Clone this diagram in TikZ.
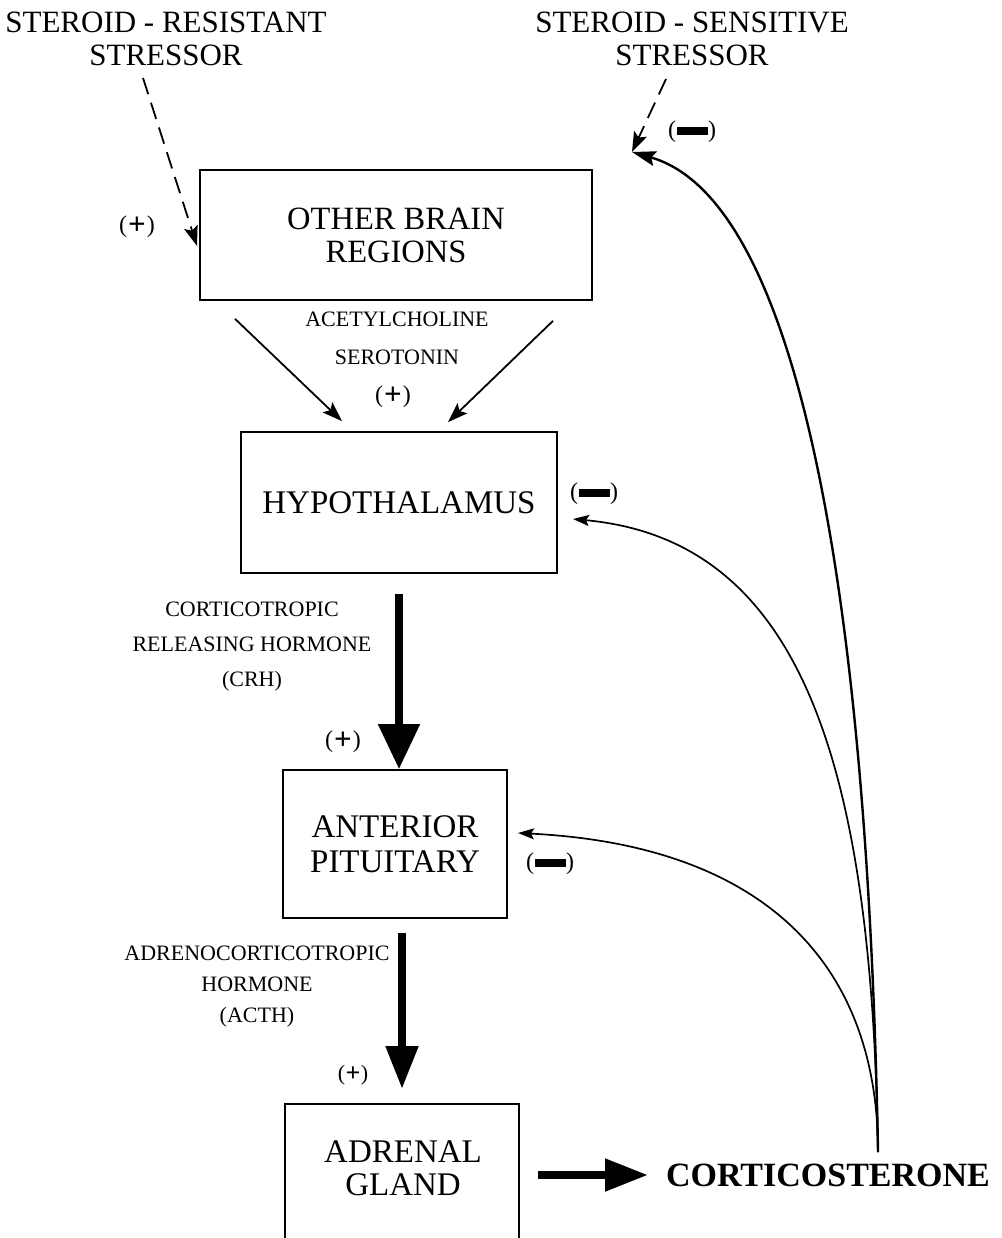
\documentclass[tikz,border=0pt]{standalone}
\usepackage{fontspec}
\setmainfont{Liberation Serif}
\usetikzlibrary{arrows.meta}
\newcommand{\negsign}{(\kern0.5pt\rule[2.5pt]{31pt}{8pt}\kern0.5pt)}
\newcommand{\possign}{(\kern1pt{\fontsize{31}{31}\selectfont\bfseries\raisebox{-1.8pt}{+}}\kern1pt)}
\newcommand{\possignsm}{(\kern0.5pt{\fontsize{26}{26}\selectfont\bfseries\raisebox{-1.5pt}{+}}\kern0.5pt)}
\begin{document}
\begin{tikzpicture}[x=1pt,y=-1pt,
  box/.style={draw,line width=1.7pt,inner sep=0pt,align=center},
  toplbl/.style={align=center,inner sep=0pt,font=\fontsize{31}{33}\selectfont},
  small/.style={align=center,inner sep=0pt},
  sign/.style={inner sep=0pt,font=\fontsize{24}{24}\selectfont},
  thinarr/.style={line width=1.8pt,-{Stealth[length=20pt,width=14pt,inset=4pt]}},
  fbarr/.style={line width=1.7pt,-{Stealth[length=16pt,width=11pt,inset=3pt]}},
  longarr/.style={line width=2.4pt,-{Stealth[length=24pt,width=15pt,inset=4pt]}},
  dasharr/.style={line width=1.8pt,dash pattern=on 17pt off 9pt,-{Stealth[length=20pt,width=14pt,inset=4pt]}},
  fatarr/.style={line width=8pt,-{Triangle[length=45pt,width=40pt]}},
  fatarrb/.style={line width=8pt,-{Triangle[length=43pt,width=31pt]}}]
\useasboundingbox (0,0) rectangle (1001,1238);
\clip (0,0) rectangle (1001,1238);

% boxes
\node[box,minimum width=392pt,minimum height=130pt,font=\fontsize{32.5}{33}\selectfont] (obr) at (396,235) {OTHER BRAIN\\REGIONS};
\node[box,minimum width=316pt,minimum height=141pt,font=\fontsize{33}{36}\selectfont] (hyp) at (399,502.5) {HYPOTHALAMUS};
\node[box,minimum width=224pt,minimum height=148pt,font=\fontsize{33}{35}\selectfont] (ap) at (395,844) {ANTERIOR\\PITUITARY};
\node[box,minimum width=234pt,minimum height=220pt,anchor=north] (ag) at (402,1103) {};
\node[small,font=\fontsize{33}{33}\selectfont] (agt) at (403,1168.5) {ADRENAL\\GLAND};
\node[inner sep=0pt,font=\bfseries\fontsize{34}{36}\selectfont] (cort) at (828,1175) {CORTICOSTERONE};

% top labels
\node[toplbl] (srs) at (166,38.5) {STEROID - RESISTANT\\STRESSOR};
\node[toplbl] (sss) at (692,38.5) {STEROID - SENSITIVE\\STRESSOR};

% small labels
\node[small,font=\fontsize{22}{38}\selectfont] (nt) at (397,338.5) {ACETYLCHOLINE\\SEROTONIN};
\node[small,font=\fontsize{22}{35}\selectfont] (crh) at (252,647) {CORTICOTROPIC\\RELEASING HORMONE\\(CRH)};
\node[small,font=\fontsize{22}{31}\selectfont] (acth) at (257,987) {ADRENOCORTICOTROPIC\\HORMONE\\(ACTH)};

% signs
\node[sign] (p1) at (137,227) {\possign};
\node[sign] (p2) at (393,397) {\possign};
\node[sign] (p3) at (343,742) {\possign};
\node[sign,font=\fontsize{22}{22}\selectfont] (p4) at (353,1075) {\possignsm};
\node[sign] (m1) at (692,132) {\negsign};
\node[sign] (m2) at (594,494) {\negsign};
\node[sign] (m3) at (550,864) {\negsign};

% coordinates
\coordinate (rsA) at (143,78);
\coordinate (rsB) at (197,246);
\coordinate (ssA) at (666,79);
\coordinate (ssB) at (632,152);
\coordinate (cs) at (878,1152);
\coordinate (hypin) at (573,519);
\coordinate (apin) at (518,833);
\coordinate (agout) at (538,1175);
\coordinate (cortin) at (648,1175);

% connectors
\draw[dasharr] (rsA) -- (rsB);
\draw[dasharr] (ssA) -- (ssB);
\draw[thinarr] ([xshift=-161pt,yshift=-18pt]obr.south) -- ([xshift=-57pt,yshift=10pt]hyp.north);
\draw[thinarr] ([xshift=157pt,yshift=-20pt]obr.south) -- ([xshift=49pt,yshift=9pt]hyp.north);
\draw[fatarr] ([yshift=-20pt]hyp.south) -- (hyp.south |- ap.north);
\draw[fatarrb] ([yshift=-14pt]ap.south -| ag.north) -- ([yshift=14pt]ag.north);
\draw[fatarrb] (agout) -- (cortin);

\draw[longarr] (cs) .. controls (868,600) and (800,200) .. (ssB);
\draw[fbarr] (cs) .. controls (872,760) and (800,540) .. (hypin);
\draw[fbarr] (cs) .. controls (878,960) and (760,845) .. (apin);
\end{tikzpicture}
\end{document}
